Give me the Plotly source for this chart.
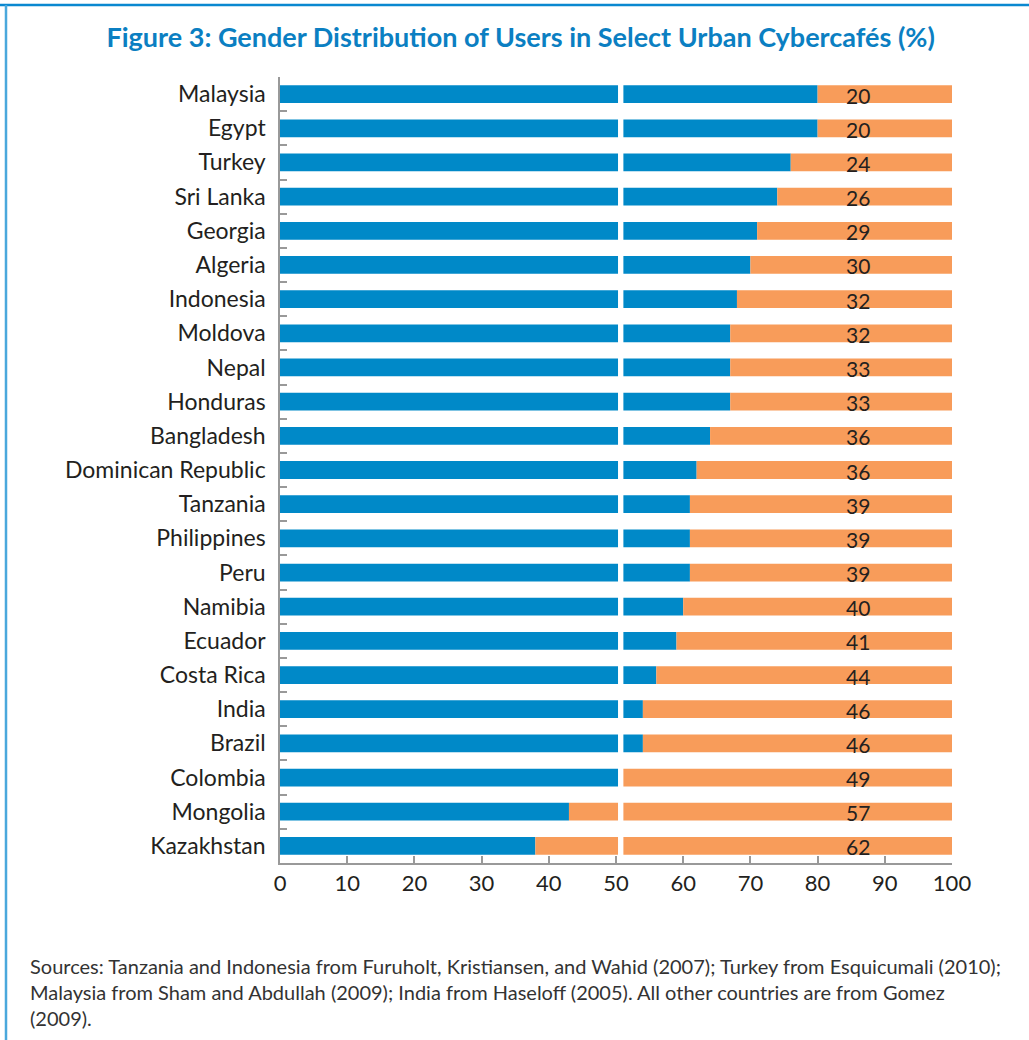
import plotly.graph_objects as go

countries = ["Malaysia", "Egypt", "Turkey", "Sri Lanka", "Georgia", "Algeria", "Indonesia",
             "Moldova", "Nepal", "Honduras", "Bangladesh", "Dominican Republic", "Tanzania",
             "Philippines", "Peru", "Namibia", "Ecuador", "Costa Rica", "India", "Brazil",
             "Colombia", "Mongolia", "Kazakhstan"]
male = [80, 80, 76, 74, 71, 70, 68, 67, 67, 67, 64, 62, 61, 61, 61, 60, 59, 56, 54, 54, 51, 43, 38]
female_labels = [20, 20, 24, 26, 29, 30, 32, 32, 33, 33, 36, 36, 39, 39, 39, 40, 41, 44, 46, 46, 49, 57, 62]
x_ticks = [0, 10, 20, 30, 40, 50, 60, 70, 80, 90, 100]

title_text = "Figure 3: Gender Distribution of Users in Select Urban Cybercafés (%)"
source_text = ("Sources: Tanzania and Indonesia from Furuholt, Kristiansen, and Wahid (2007); Turkey from Esquicumali (2010);<br>"
               "Malaysia from Sham and Abdullah (2009); India from Haseloff (2005). All other countries are from Gomez<br>"
               "(2009).")

BLUE = "#0089c8"
ORANGE = "#f89c5a"
TXT = "#231f20"
FONT = "Lato, 'Open Sans', sans-serif"

female_bar = [100 - m for m in male]

fig = go.Figure()
fig.add_trace(go.Bar(y=countries, x=male, orientation="h", marker=dict(color=BLUE, line=dict(width=0)),
                     name="Male", hoverinfo="x+y"))
fig.add_trace(go.Bar(y=countries, x=female_bar, base=male, orientation="h",
                     marker=dict(color=ORANGE, line=dict(width=0)), name="Female", hoverinfo="y"))

for c, v in zip(countries, female_labels):
    fig.add_annotation(x=86, y=c, xref="x", yref="y", text=str(v), showarrow=False,
                       xanchor="center", yanchor="middle", yshift=-1,
                       font=dict(family=FONT, size=21, color=TXT))

# white break line just right of 50
fig.add_shape(type="rect", xref="x", yref="y", x0=50.3, x1=51.1, y0=-0.45, y1=len(countries) - 0.55,
              fillcolor="white", line=dict(width=0), layer="above")

# page frame
fig.add_shape(type="line", xref="paper", yref="paper", x0=-280 / 672, x1=1.2,
              y0=1 + 72 / 786, y1=1 + 72 / 786, line=dict(color="#0a88d0", width=2.5))

fig.update_layout(
    width=1029, height=1040,
    margin=dict(l=280, r=77, t=77, b=177),
    barmode="overlay", bargap=0.48,
    showlegend=False,
    plot_bgcolor="white", paper_bgcolor="white",
    font=dict(family=FONT, color=TXT),
    title=dict(text="<b>" + title_text + "</b>", x=0.506, xanchor="center", y=1 - 38 / 1040, yanchor="middle",
               font=dict(family=FONT, size=27, color="#0b7fc2")),
    xaxis=dict(range=[0, 100], tickvals=x_ticks, ticktext=[str(t) for t in x_ticks],
               ticks="inside", ticklen=7, tickcolor="#999999", tickwidth=1.5,
               showline=True, linecolor="#999999", linewidth=1.5, showgrid=False, zeroline=False,
               tickfont=dict(family=FONT, size=22, color=TXT), fixedrange=True),
    yaxis=dict(type="category", categoryorder="array", categoryarray=countries[::-1],
               tickson="boundaries", ticks="inside", ticklen=7, tickcolor="#999999", tickwidth=1.5,
               showline=True, linecolor="#999999", linewidth=1.5, showgrid=False,
               tickfont=dict(family=FONT, size=23, color=TXT), ticklabelstandoff=8,
               range=[-0.5, len(countries) - 0.5], fixedrange=True),
)

fig.add_annotation(text=source_text, xref="paper", yref="paper", x=-252 / 672, y=-(952 - 863) / 786,
                   xanchor="left", yanchor="top", align="left", showarrow=False,
                   font=dict(family=FONT, size=20, color="#333333"))

# left frame line
fig.add_shape(type="line", xref="paper", yref="paper", x0=-274 / 672, x1=-274 / 672,
              y0=-0.3, y1=1 + 72 / 786, line=dict(color="#4aa8dc", width=2.5))

fig.write_html("out.html")
